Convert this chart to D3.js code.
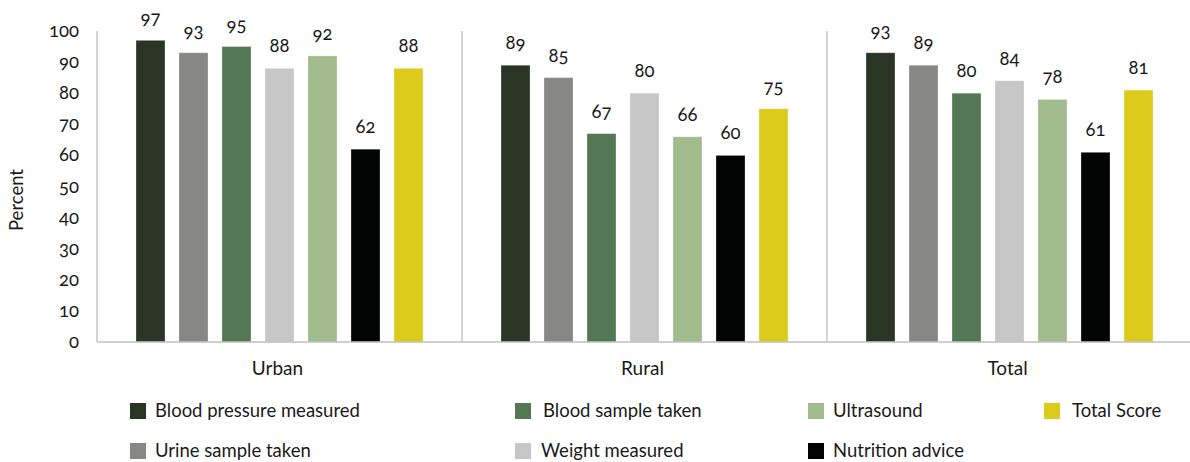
<!DOCTYPE html>
<html>
<head>
<meta charset="utf-8">
<script src="https://cdn.jsdelivr.net/npm/d3@7"></script>
<style>
  html, body { margin: 0; padding: 0; background: #fff; }
  svg text { font-family: Lato, "Noto Sans", sans-serif; fill: #1a1a1a; font-variant-numeric: oldstyle-nums; }
</style>
</head>
<body>
<svg id="chart" width="1190" height="462"></svg>
<script>
// Areas compared
const categories = ["Urban", "Rural", "Total"];

// Services received, one series per service
const seriesNames = [
  "Blood pressure measured",
  "Urine sample taken",
  "Blood sample taken",
  "Weight measured",
  "Ultrasound",
  "Nutrition advice",
  "Total Score"
];

// Percent of women receiving each service, by area (Urban, Rural, Total)
const bloodPressure = [97, 89, 93];
const urineSample   = [93, 85, 89];
const bloodSample   = [95, 67, 80];
const weight        = [88, 80, 84];
const ultrasound    = [92, 66, 78];
const nutrition     = [62, 60, 61];
const totalScore    = [88, 75, 81];

const yTicks = [0, 10, 20, 30, 40, 50, 60, 70, 80, 90, 100];

const colors = ["#2a3526", "#878785", "#537853", "#c6c6c6", "#a2bb8c", "#020403", "#dccb1b"];

const seriesValues = [bloodPressure, urineSample, bloodSample, weight, ultrasound, nutrition, totalScore];

// Layout
const margin = { left: 97 };
const W = 1190;
const plotBottom = 342;

const svg = d3.select("#chart");

const x0 = d3.scaleBand()
  .domain(categories)
  .range([margin.left, margin.left + 3 * 365]);

const x1 = d3.scaleBand()
  .domain(seriesNames)
  .range([39, 365 - 39])
  .paddingInner(14 / 43)
  .paddingOuter(0);

const y = d3.scaleLinear().domain([0, 100]).range([plotBottom, 31]);

// Y axis tick labels (no tick marks)
const yAxis = d3.axisLeft(y).tickValues(yTicks).tickSize(0).tickPadding(18);
const gy = svg.append("g").attr("transform", `translate(${margin.left},0)`).call(yAxis);
gy.select(".domain").remove();
gy.selectAll("text").style("font-size", "18.5px").attr("fill", "#1a1a1a").attr("dy", "0.3em");

// Axis line
svg.append("line")
  .attr("x1", margin.left).attr("x2", margin.left)
  .attr("y1", y(100)).attr("y2", plotBottom)
  .attr("stroke", "#bfbfbf").attr("stroke-width", 1.3);

// Group dividers
categories.slice(1).forEach(c => {
  svg.append("line")
    .attr("x1", x0(c)).attr("x2", x0(c))
    .attr("y1", y(100)).attr("y2", plotBottom)
    .attr("stroke", "#bfbfbf").attr("stroke-width", 1.3);
});

// Bars and value labels
const groups = svg.selectAll("g.cat")
  .data(categories)
  .join("g")
  .attr("class", "cat")
  .attr("transform", c => `translate(${x0(c)},0)`);

groups.each(function (c, ci) {
  const g = d3.select(this);
  const rows = seriesNames.map((s, si) => ({ s, si, v: seriesValues[si][ci] }));
  g.selectAll("rect")
    .data(rows)
    .join("rect")
    .attr("x", d => x1(d.s))
    .attr("width", x1.bandwidth())
    .attr("y", d => y(d.v))
    .attr("height", d => plotBottom - y(d.v))
    .attr("fill", d => colors[d.si])
    .attr("stroke", "rgba(255,255,255,0.35)")
    .attr("stroke-width", 0.8);
  g.selectAll("text.val")
    .data(rows)
    .join("text")
    .attr("class", "val")
    .attr("x", d => x1(d.s) + x1.bandwidth() / 2)
    .attr("y", d => y(d.v) - 16)
    .attr("text-anchor", "middle")
    .style("font-size", "18.5px")
    .text(d => d.v);
});

// Baseline
svg.append("line")
  .attr("x1", margin.left).attr("x2", W)
  .attr("y1", plotBottom).attr("y2", plotBottom)
  .attr("stroke", "#bfbfbf").attr("stroke-width", 1.5);

// Category labels
svg.selectAll("text.cat")
  .data(categories)
  .join("text")
  .attr("class", "cat")
  .attr("x", c => x0(c) + x0.bandwidth() / 2 - 2)
  .attr("y", 375)
  .attr("text-anchor", "middle")
  .style("font-size", "19px")
  .text(c => c);

// Y axis title
svg.append("text")
  .attr("transform", "translate(23,200) rotate(-90)")
  .attr("text-anchor", "middle")
  .style("font-size", "18.5px")
  .text("Percent");

// Legend: four columns, two rows
const legendCols = [130, 515, 808, 1044];
const legendTextX = [155, 543, 833, 1072];
const legendRows = [411, 451];
const legendPlace = [[0, 0], [0, 1], [1, 0], [1, 1], [2, 0], [2, 1], [3, 0]];

const legend = svg.selectAll("g.legend")
  .data(seriesNames)
  .join("g")
  .attr("class", "legend");

legend.append("rect")
  .attr("x", (d, i) => legendCols[legendPlace[i][0]])
  .attr("y", (d, i) => legendRows[legendPlace[i][1]] - 8)
  .attr("width", 16).attr("height", 16)
  .attr("fill", (d, i) => colors[i]);

legend.append("text")
  .attr("x", (d, i) => legendTextX[legendPlace[i][0]] - (i === 3 ? 2 : 0))
  .attr("y", (d, i) => legendRows[legendPlace[i][1]])
  .attr("dy", "0.35em")
  .style("font-size", "18.5px")
  .text(d => d);
</script>
</body>
</html>
